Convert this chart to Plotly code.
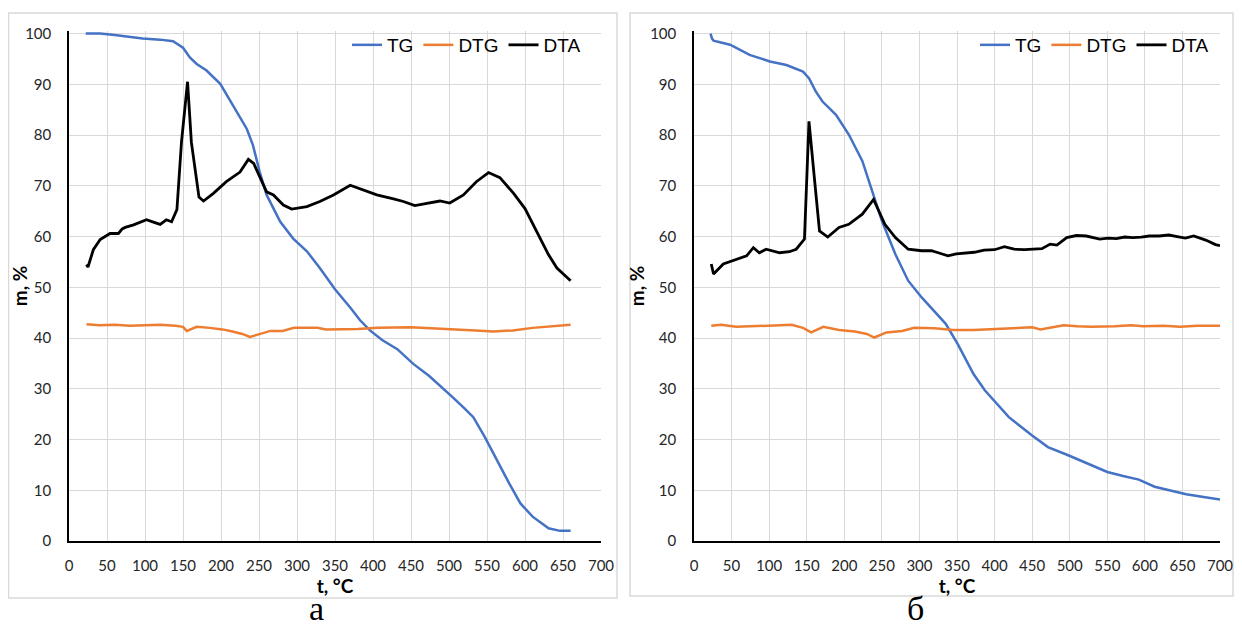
import plotly.graph_objects as go

# ---- panel "а" ----
t_a_tg = [22, 41, 60, 80, 97, 120, 137, 150, 159, 168, 181, 199, 216, 234, 242, 251, 260, 278,
          295, 313, 330, 350, 370, 383, 396, 412, 432, 453, 474, 490, 505, 520, 532, 547, 563,
          579, 594, 610, 631, 646, 660]
tg_a = [100, 100, 99.7, 99.3, 99.0, 98.8, 98.5, 97.2, 95.3, 94.0, 92.7, 90.1, 85.9, 81.2, 78.0,
        72.7, 68.2, 62.9, 59.6, 57.1, 53.8, 49.6, 46.0, 43.5, 41.5, 39.6, 37.8, 34.9, 32.5, 30.4,
        28.3, 26.2, 24.4, 20.5, 15.9, 11.4, 7.4, 4.8, 2.5, 2.0, 2.0]

t_a_dtg = [23, 40, 60, 80, 100, 120, 140, 150, 155, 168, 185, 202, 215, 228, 238, 250, 265, 281,
           296, 327, 338, 380, 406, 450, 485, 511, 535, 558, 584, 610, 640, 660]
dtg_a = [42.7, 42.5, 42.6, 42.4, 42.5, 42.6, 42.4, 42.2, 41.4, 42.2, 42.0, 41.7, 41.3, 40.8, 40.2,
         40.7, 41.4, 41.4, 42.0, 42.0, 41.7, 41.8, 42.0, 42.1, 41.9, 41.7, 41.5, 41.3, 41.5, 42.0,
         42.4, 42.6]

t_a_dta = [23, 25, 32, 41, 54, 65, 70, 74, 85, 95, 102, 112, 120, 128, 135, 142, 148, 156, 161,
           171, 177, 190, 207, 225, 236, 243, 260, 269, 282, 293, 313, 330, 348, 370, 387, 405,
           427, 440, 455, 471, 488, 501, 519, 536, 552, 567, 585, 600, 615, 631, 642, 660]
dta_a = [54.5, 54.0, 57.4, 59.4, 60.6, 60.6, 61.5, 61.8, 62.3, 62.8, 63.3, 62.8, 62.4, 63.3, 62.9,
         65.3, 78.6, 90.5, 78.6, 67.8, 67.0, 68.5, 70.8, 72.7, 75.2, 74.4, 68.8, 68.2, 66.2, 65.4,
         65.9, 66.9, 68.2, 70.1, 69.1, 68.2, 67.4, 66.9, 66.1, 66.5, 67.0, 66.6, 68.2, 70.8, 72.6,
         71.6, 68.5, 65.5, 61.0, 56.4, 53.8, 51.3]

# ---- panel "б" ----
t_b_tg = [22, 24, 26, 48, 74, 101, 123, 145, 153, 162, 171, 189, 206, 224, 237, 250, 268, 285,
          303, 319, 335, 351, 372, 387, 403, 419, 450, 471, 498, 519, 550, 571, 592, 613, 634,
          655, 676, 700]
tg_b = [100, 99.0, 98.6, 97.8, 95.8, 94.5, 93.8, 92.5, 91.2, 88.6, 86.6, 84.0, 80.1, 74.9, 69.0,
        63.1, 56.5, 51.3, 48.0, 45.4, 42.8, 38.8, 32.9, 29.7, 27.1, 24.4, 20.8, 18.5, 16.9, 15.6,
        13.6, 12.8, 12.1, 10.7, 10.0, 9.2, 8.7, 8.2]

t_b_dtg = [23, 36, 56, 75, 90, 110, 130, 145, 156, 172, 193, 214, 230, 240, 256, 277, 293, 320,
           345, 372, 400, 424, 450, 461, 477, 492, 510, 529, 560, 582, 598, 625, 647, 670, 700]
dtg_b = [42.4, 42.6, 42.2, 42.3, 42.4, 42.4, 42.6, 42.0, 41.1, 42.2, 41.6, 41.3, 40.8, 40.1, 41.1,
         41.4, 42.0, 41.9, 41.6, 41.6, 41.8, 41.9, 42.1, 41.7, 42.1, 42.5, 42.3, 42.2, 42.3, 42.5,
         42.3, 42.4, 42.2, 42.4, 42.4]

t_b_dta = [23, 26, 39, 57, 70, 79, 87, 96, 105, 114, 127, 136, 147, 153, 161, 167, 178, 193, 206,
           224, 239, 254, 268, 285, 303, 316, 325, 338, 349, 360, 373, 386, 400, 413, 426, 440,
           452, 463, 474, 483, 496, 509, 522, 540, 551, 562, 573, 584, 595, 606, 619, 632, 643,
           654, 665, 681, 694, 700]
dta_b = [54.6, 52.6, 54.6, 55.5, 56.2, 57.8, 56.8, 57.5, 57.2, 56.8, 57.0, 57.5, 59.5, 82.7, 70.3,
         61.1, 59.9, 61.8, 62.4, 64.4, 67.3, 62.4, 59.8, 57.5, 57.2, 57.2, 56.8, 56.2, 56.6, 56.8,
         56.9, 57.3, 57.4, 58.0, 57.5, 57.4, 57.5, 57.6, 58.5, 58.3, 59.8, 60.2, 60.1, 59.5, 59.7,
         59.6, 59.9, 59.8, 59.9, 60.1, 60.1, 60.3, 60.0, 59.7, 60.1, 59.3, 58.4, 58.2]

BLUE = "#4472C4"
ORANGE = "#ED7D31"
BLACK = "#000000"

# the page body has an 8px margin: keep the figure inside the visible area
OFF = 8
W = 1242 - 2 * OFF
H = 638 - 2 * OFF


def px(x):
    return (x - OFF) / W


def py(y):
    return 1 - (y - OFF) / H


fig = go.Figure()

panels = [
    ("x", "y", "legend", t_a_tg, tg_a, t_a_dtg, dtg_a, t_a_dta, dta_a),
    ("x2", "y2", "legend2", t_b_tg, tg_b, t_b_dtg, dtg_b, t_b_dta, dta_b),
]
for xa, ya, lg, ttg, tg, tdtg, dtg, tdta, dta in panels:
    fig.add_trace(go.Scatter(x=ttg, y=tg, name="TG", mode="lines", line=dict(color=BLUE, width=2.5),
                             xaxis=xa, yaxis=ya, legend=lg))
    fig.add_trace(go.Scatter(x=tdtg, y=dtg, name="DTG", mode="lines", line=dict(color=ORANGE, width=2.5),
                             xaxis=xa, yaxis=ya, legend=lg))
    fig.add_trace(go.Scatter(x=tdta, y=dta, name="DTA", mode="lines", line=dict(color=BLACK, width=2.8),
                             xaxis=xa, yaxis=ya, legend=lg))

tick_font = dict(family="Lato, Liberation Sans, sans-serif", size=15, color="#262626")
title_font = dict(family="Lato, Liberation Sans, sans-serif", size=19, color="#000000")


def xaxis_style(domain, anchor):
    return dict(domain=domain, anchor=anchor, range=[0, 700], dtick=50, tick0=0,
                showgrid=True, gridcolor="#d9d9d9", gridwidth=1,
                showline=True, linecolor="#000000", linewidth=1.5,
                ticks="", tickfont=tick_font, ticklabelstandoff=10, ticklabeloverflow="allow",
                title=dict(text="<b>t, °C</b>", font=title_font, standoff=2),
                zeroline=False, fixedrange=True, automargin=False)


def yaxis_style(anchor):
    return dict(domain=[py(541), py(31)], anchor=anchor, range=[0, 100.5], dtick=10, tick0=0,
                showgrid=True, gridcolor="#d9d9d9", gridwidth=1,
                showline=True, linecolor="#000000", linewidth=1.5,
                ticks="", tickfont=tick_font, ticklabelstandoff=13,
                title=dict(text="<b>m, %</b>", font=title_font, standoff=0),
                zeroline=False, fixedrange=True, automargin=False)


legend_font = dict(family="Liberation Sans, Arial, sans-serif", size=19, color="#000000")
label_font = dict(family="Liberation Serif, serif", size=34, color="#000000")

fig.update_layout(
    width=W, height=H,
    margin=dict(l=0, r=0, t=0, b=0),
    paper_bgcolor="white", plot_bgcolor="white",
    xaxis=xaxis_style([px(69), px(601)], "y"),
    yaxis=yaxis_style("x"),
    xaxis2=xaxis_style([px(694), px(1220)], "y2"),
    yaxis2=yaxis_style("x2"),
    legend=dict(orientation="h", x=px(586), y=py(45), xanchor="right", yanchor="middle",
                font=legend_font, bgcolor="rgba(0,0,0,0)", itemwidth=30, tracegroupgap=0),
    legend2=dict(orientation="h", x=px(1214), y=py(45), xanchor="right", yanchor="middle",
                 font=legend_font, bgcolor="rgba(0,0,0,0)", itemwidth=30, tracegroupgap=0),
    shapes=[
        dict(type="rect", xref="paper", yref="paper", x0=px(8.5), x1=px(617), y0=py(598), y1=py(13),
             line=dict(color="#d9d9d9", width=1.5), layer="below"),
        dict(type="rect", xref="paper", yref="paper", x0=px(630), x1=px(1233), y0=py(596), y1=py(13),
             line=dict(color="#d9d9d9", width=1.5), layer="below"),
    ],
    annotations=[
        dict(text="а", x=px(307), y=py(608), xref="paper", yref="paper", showarrow=False,
             yanchor="middle", font=label_font),
        dict(text="б", x=px(926), y=py(608), xref="paper", yref="paper", showarrow=False,
             yanchor="middle", font=label_font),
    ],
)

fig.write_html("out.html")
